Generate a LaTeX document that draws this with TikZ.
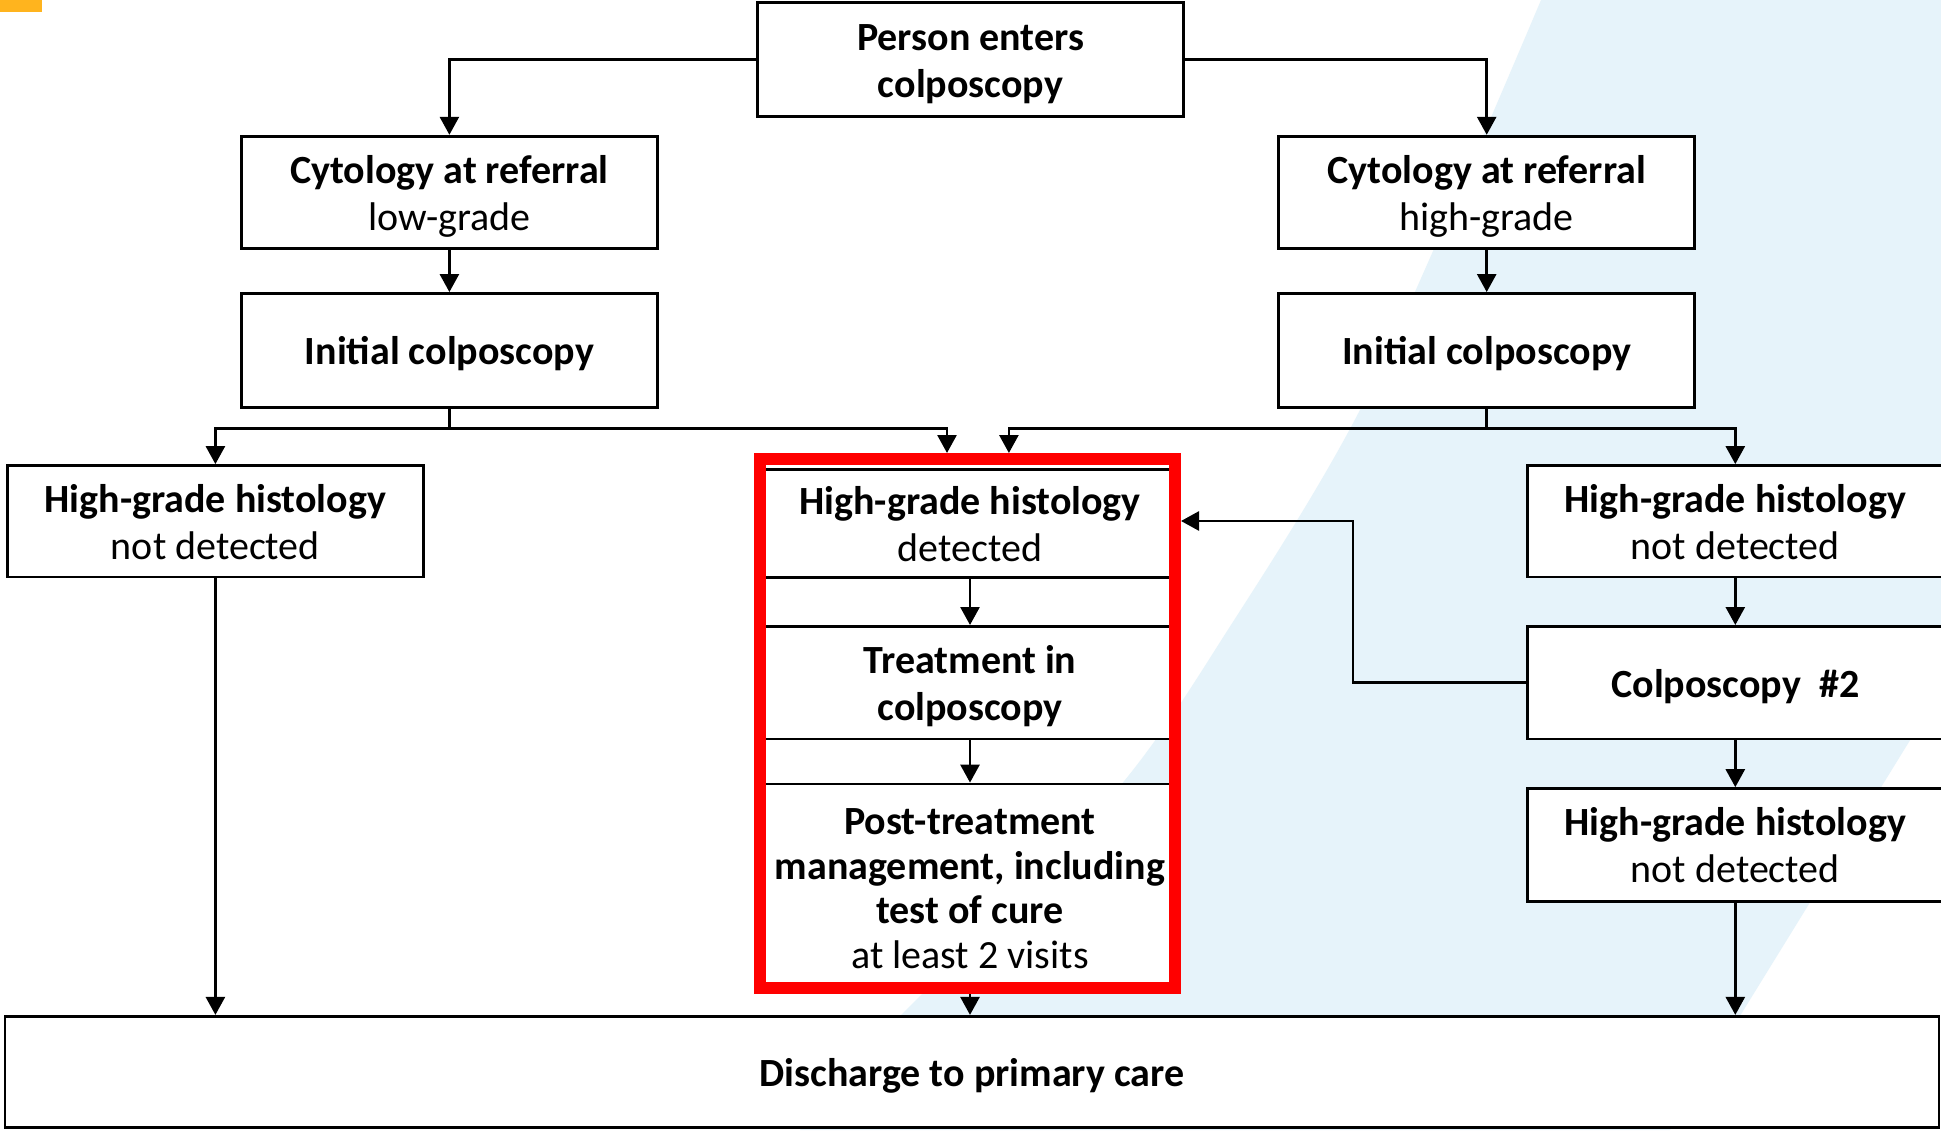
\documentclass[tikz,border=0pt]{standalone}
\usepackage{fontspec}
\setmainfont{Carlito}
\usetikzlibrary{arrows.meta,calc}
\definecolor{bgblue}{RGB}{230,243,250}
\definecolor{orng}{RGB}{255,180,30}
\definecolor{redf}{RGB}{255,0,0}
\newcommand{\bsa}{\rule{0pt}{38.8pt}}
\newcommand{\bsz}{\rule[-10pt]{0pt}{10pt}}
\newcommand{\psa}{\rule{0pt}{45.8pt}}
\begin{document}
\begin{tikzpicture}[x=1pt,y=-1pt,
 box/.style={draw=black,line width=2.8pt,fill=white,inner sep=0pt,align=center,font=\fontsize{40}{47}\selectfont},
 arr/.style={line width=2.7pt,-{Triangle[length=18pt,width=19pt]}},
 ln/.style={line width=2.7pt}]
\useasboundingbox (0,0) rectangle (1941,1130);
\fill[white] (0,0) rectangle (1941,1130);
\fill[bgblue] (1541,0) -- (1941,0) -- (1941,690) -- (1743,1011) -- (1670,1130) -- (800,1130)
  -- plot[smooth] coordinates {(900,1016) (1000,915) (1125,780) (1215,650) (1365,400) (1541,0)} -- cycle;
\fill[orng] (0,0) rectangle (42,12);

\node[box,minimum width=426pt,minimum height=114pt] (top) at (970.5,59.5) {\bsa\textbf{Person enters}\\\textbf{colposcopy}\bsz};
\node[box,minimum width=416pt,minimum height=112.6pt] (cyt1) at (449.4,192.5) {\bsa\textbf{Cytology at referral}\\low-grade\bsz};
\node[box,minimum width=416pt,minimum height=112.6pt] (cyt2) at (1486.7,192.5) {\bsa\textbf{Cytology at referral}\\high-grade\bsz};
\node[box,minimum width=416pt,minimum height=113.9pt] (ic1) at (449.4,350.4) {\bsa\textbf{Initial colposcopy}\bsz};
\node[box,minimum width=416pt,minimum height=113.9pt] (ic2) at (1486.7,350.4) {\bsa\textbf{Initial colposcopy}\bsz};
\node[box,minimum width=416pt,minimum height=111.4pt] (hgnd1) at (215.4,521.2) {\bsa\textbf{High-grade histology}\\not detected\bsz};
\node[box,minimum width=410pt,minimum height=108pt] (hgd) at (970,523.5) {\bsa\textbf{High-grade histology}\\detected\bsz};
\node[box,minimum width=410pt,minimum height=112.6pt] (treat) at (970,682.7) {\bsa\textbf{Treatment in}\\\textbf{colposcopy}\bsz};
\node[box,minimum width=410pt,minimum height=199pt,font=\fontsize{40}{44.6}\selectfont] (post) at (970,883.5) {\psa\textbf{Post-treatment}\\\textbf{management, including}\\\textbf{test of cure}\\at least 2 visits\bsz};
\node[box,minimum width=415.4pt,minimum height=111.4pt] (hgnd2) at (1735.3,521.2) {\bsa\textbf{High-grade histology}\\not detected\bsz};
\node[box,minimum width=415.4pt,minimum height=112.6pt] (colp2) at (1735.3,682.7) {\bsa\textbf{Colposcopy\ \ \#2}\bsz};
\node[box,minimum width=415.4pt,minimum height=112.7pt] (hgnd3) at (1735.3,844.9) {\bsa\textbf{High-grade histology}\\not detected\bsz};
\node[box,minimum width=1934pt,minimum height=111.4pt] (discharge) at (972,1072) {\bsa\textbf{Discharge to primary care}\bsz};

% connectors
\draw[arr] (top.west) -| (cyt1.north);
\draw[arr] (top.east) -| (cyt2.north);
\draw[arr] (cyt1.south) -- (ic1.north);
\draw[arr] (cyt2.south) -- (ic2.north);
\draw[arr] (hgd.south) -- (treat.north);
\draw[arr] (treat.south) -- (post.north);
\draw[arr] (post.south) -- (discharge.north -| post.south);

\node[draw=redf,line width=12pt,minimum width=415pt,minimum height=529pt,inner sep=0pt] (redframe) at (967.5,723.5) {};

\coordinate (bl) at (449.4,428.3);
\coordinate (br) at (1486.7,428.3);
\coordinate (t1) at (947,0);
\coordinate (t2) at (1008.9,0);
\coordinate (fb) at (1353,521);
\draw[ln] (ic1.south) -- (bl);
\draw[ln] (ic2.south) -- (br);
\draw[arr] (bl) -| (hgnd1.north);
\draw[arr] (bl) -| (t1 |- redframe.north);
\draw[arr] (br) -| (hgnd2.north);
\draw[arr] (br) -| (t2 |- redframe.north);
\draw[arr] (hgnd2.south) -- (colp2.north);
\draw[arr] (colp2.south) -- (hgnd3.north);
\draw[arr] (colp2.west) -| (fb) -- (fb -| redframe.east);
\draw[arr] (hgnd1.south) -- (hgnd1.south |- discharge.north);
\draw[arr] (hgnd3.south) -- (hgnd3.south |- discharge.north);
\end{tikzpicture}
\end{document}
